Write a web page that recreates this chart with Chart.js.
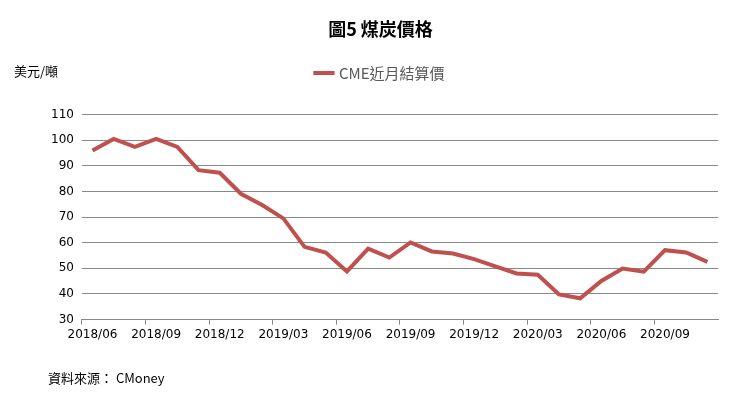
<!DOCTYPE html>
<html>
<head>
<meta charset="utf-8">
<script src="https://cdn.jsdelivr.net/npm/chart.js@4"></script>
<style>
  body { margin: 0; background: #fff; font-family: "Noto Sans CJK TC", sans-serif; }
  #wrap { position: relative; width: 742px; height: 405px; }
  .note { position: absolute; font-size: 13px; color: #000; }
</style>
</head>
<body>
<div id="wrap">
  <canvas id="c" width="742" height="405"></canvas>
  <div class="note" style="left:14px;top:61px;">美元/噸</div>
  <div class="note" style="left:48px;top:368px;">資料來源： CMoney</div>
</div>
<script>
// Coal price, monthly 2018/06 - 2020/11
const months = [
  "2018/06","2018/07","2018/08","2018/09","2018/10","2018/11","2018/12","2019/01","2019/02","2019/03",
  "2019/04","2019/05","2019/06","2019/07","2019/08","2019/09","2019/10","2019/11","2019/12","2020/01",
  "2020/02","2020/03","2020/04","2020/05","2020/06","2020/07","2020/08","2020/09","2020/10","2020/11"
];
const cmePrice = [
  96.0, 100.5, 97.4, 100.5, 97.4, 88.3, 87.3, 79.1, 74.7, 69.5,
  58.4, 56.2, 48.8, 57.7, 54.2, 60.1, 56.6, 55.8, 53.6, 50.8,
  48.0, 47.5, 39.8, 38.3, 45.1, 49.9, 48.7, 57.1, 56.2, 52.5
];
const yTicks = [30, 40, 50, 60, 70, 80, 90, 100, 110];

// push the plot area down below the legend, like the original
const legendGap = {
  id: "legendGap",
  beforeInit(chart) {
    const fit = chart.legend.fit;
    chart.legend.fit = function () {
      fit.bind(chart.legend)();
      this.height += 24;
    };
  },
};

new Chart(document.getElementById("c"), {
  type: "line",
  data: {
    labels: months,
    datasets: [{
      label: "CME近月結算價",
      data: cmePrice,
      borderColor: "#c0504d",
      backgroundColor: "#c0504d",
      borderWidth: 4,
      pointRadius: 0,
      tension: 0,
    }],
  },
  plugins: [legendGap],
  options: {
    responsive: false,
    animation: false,
    layout: { padding: { left: 43, right: 24, top: 12, bottom: 60 } },
    plugins: {
      title: {
        display: true,
        text: "圖5 煤炭價格",
        color: "#000",
        font: { size: 18, weight: "bold", family: "Noto Sans CJK TC" },
        padding: { top: 6, bottom: 16 },
      },
      legend: {
        labels: {
          color: "#595959",
          font: { size: 15, family: "Noto Sans CJK TC" },
          usePointStyle: true,
          pointStyle: "line",
          boxWidth: 38,
        },
      },
      tooltip: { enabled: false },
    },
    scales: {
      x: {
        offset: true,
        grid: {
          offset: true,
          drawOnChartArea: false,
          tickLength: 5,
          color: (ctx) => (ctx.index % 3 === 0 ? "#888" : "transparent"),
        },
        border: { color: "#888" },
        ticks: {
          autoSkip: false,
          maxRotation: 0,
          color: "#000",
          font: { size: 12, family: "DejaVu Sans" },
          callback: function (v, i) { return i % 3 === 0 ? months[i] : ""; },
        },
      },
      y: {
        min: 30,
        max: 110,
        afterBuildTicks: (axis) => { axis.ticks = yTicks.map((v) => ({ value: v })); },
        grid: { color: "#888", drawTicks: false },
        border: { display: false },
        ticks: { color: "#000", padding: 8, font: { size: 12, family: "DejaVu Sans" } },
      },
    },
  },
});
</script>
</body>
</html>
